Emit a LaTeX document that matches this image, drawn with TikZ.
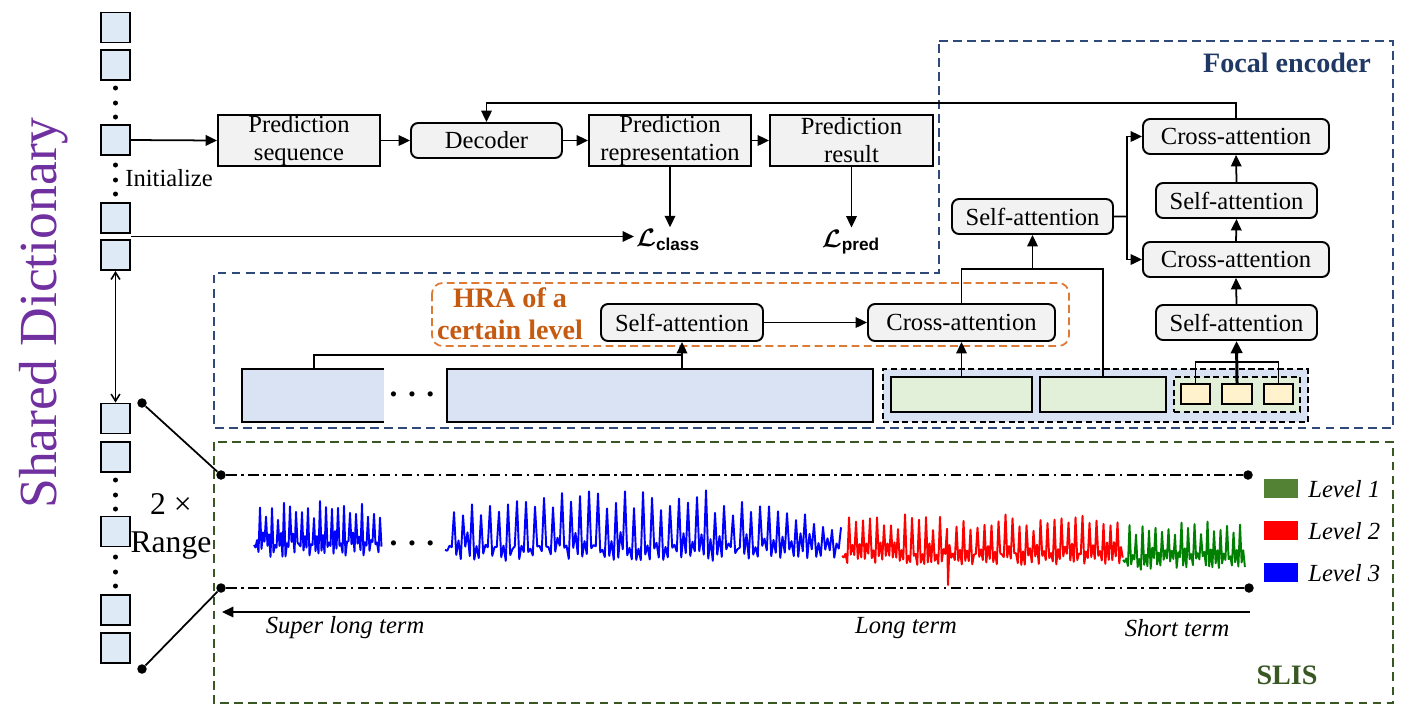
\documentclass[tikz,border=0pt]{standalone}
\usepackage{fontspec}
\setmainfont{Liberation Serif}
\setsansfont{Liberation Sans}
\usepackage{amsmath,bm}
\usetikzlibrary{arrows.meta,fit,calc}
\definecolor{boxgray}{HTML}{F2F2F2}
\definecolor{dictblue}{HTML}{DEEBF7}
\definecolor{barblue}{HTML}{DAE3F3}
\definecolor{lgreen}{HTML}{E2F0D9}
\definecolor{lyellow}{HTML}{FFF2CC}
\definecolor{navy}{HTML}{2F4A7A}
\definecolor{navytext}{HTML}{1F3864}
\definecolor{hraorange}{HTML}{C55A11}
\definecolor{hraborder}{HTML}{DD7A35}
\definecolor{slisgreen}{HTML}{385723}
\definecolor{legendgreen}{HTML}{548235}
\definecolor{dictpurple}{HTML}{7030A0}
\definecolor{wavegreen}{HTML}{008000}
\newcommand{\fs}{\fontsize{14}{16}\selectfont}
\tikzset{
  pbox/.style={draw, line width=1.1pt, fill=boxgray, inner sep=0pt},
  rbox/.style={pbox, rounded corners=4pt},
  lbl/.style={font=\fs, align=center, inner sep=0pt},
  arr/.style={line width=1pt, -{Triangle[length=6.5pt,width=6pt]}},
  ln/.style={line width=1pt},
  dsq/.style={draw, line width=1.1pt, fill=dictblue, minimum width=0.58cm, minimum height=0.6cm, inner sep=0pt},
  sdot/.style={circle, fill=black, inner sep=0pt, minimum size=0.1cm},
  bdot/.style={circle, fill=black, inner sep=0pt, minimum size=0.19cm},
  plainbox/.style={draw, line width=1.1pt, inner sep=0pt},
  groupdash/.style={draw, line width=1pt, dash pattern=on 3.5pt off 2pt, inner sep=0pt},
  navydash/.style={draw=navy, line width=0.9pt, dash pattern=on 5pt off 3pt},
  greendash/.style={draw=slisgreen, line width=0.9pt, dash pattern=on 5pt off 3pt},
  dashdotline/.style={line width=1pt, dash pattern=on 6pt off 2.5pt on 1.5pt off 2.5pt},
  wave/.style={line width=1.1pt, line join=round},
  txt/.style={font=\fs, inner sep=0pt},
  itxt/.style={font=\fs\itshape, inner sep=0pt},
  legsq/.style={inner sep=0pt}
}
\begin{document}
\begin{tikzpicture}[x=0.02cm,y=-0.02cm]
\useasboundingbox (0,0) rectangle (1408,718);

% ---------- Shared dictionary ----------
\node[rotate=90, text=dictpurple, font=\fontsize{30.5}{36}\selectfont, inner sep=0pt] (sdict) at (44,313) {Shared Dictionary};

\node[dsq] (d1) at (115.5,27.5) {};
\node[dsq] (d2) at (115.5,65) {};
\node[dsq] (d3) at (115.5,140) {};
\node[dsq] (d4) at (115.5,218) {};
\node[dsq] (d5) at (115.5,255) {};
\node[dsq] (b1) at (115.5,418.5) {};
\node[dsq] (b2) at (115.5,457) {};
\node[dsq] (b3) at (115.5,531.5) {};
\node[dsq] (b4) at (115.5,610) {};
\node[dsq] (b5) at (115.5,648) {};
\foreach \yy [count=\k] in {88,103,117,165,180,194,480,495,509,557,572,586}
  \node[sdot] (vd\k) at (115.5,\yy) {};

\node[txt, anchor=west] (init) at (125,178) {Initialize};
\draw[line width=0.9pt, <->, >={Straight Barb[length=4pt,width=5pt]}] (d5.south) -- (b1.north);

\node[font=\fontsize{18}{20}\selectfont, inner sep=0pt] (twox) at (171,504) {2 ×};
\node[font=\fontsize{18}{20}\selectfont, inner sep=0pt] (range) at (171,546) {Range};

% ---------- Top flow ----------
\node[pbox, fit={(218,115) (380,166)}] (ps) {};
\node[lbl] (pst) at (ps.center) {Prediction\\sequence};
\node[rbox, fit={(411,123) (562,158)}] (dec) {};
\node[lbl] (dect) at (dec.center) {Decoder};
\node[pbox, fit={(589,115) (751,166)}] (prep) {};
\node[lbl] (prept) at (prep.center) {Prediction\\representation};
\node[pbox, fit={(770,115) (933,166)}] (pres) {};
\node[lbl] (prest) at (pres.center) {Prediction\\result};

\node[inner sep=1pt, font=\fs] (lcls) at (668,240) {$\bm{\mathcal{L}}_{\textsf{\bfseries class}}$};
\node[inner sep=1pt, font=\fs] (lprd) at (851,242) {$\bm{\mathcal{L}}_{\textsf{\bfseries pred}}$};

\draw[arr] (d3.east) -- (ps.west);
\draw[arr] (ps.east) -- (dec.west);
\draw[arr] (dec.east) -- (prep.west);
\draw[arr] (prep.east) -- (pres.west);
\draw[arr] (prep.south) -- (lcls.north -| prep.south);
\draw[arr] (pres.south) -- (lprd.north -| pres.south);
\coordinate (dgap) at ($(d4.south east)!0.5!(d5.north east)$);
\draw[arr] (dgap) -- (dgap -| lcls.west);

% ---------- Focal encoder ----------
\draw[navydash] (939,41) -- (1393,41) -- (1393,428) -- (214,428) -- (214,273) -- (939,273) -- cycle;
\node[font=\fontsize{16}{18}\selectfont\bfseries, text=navytext, inner sep=0pt] (fenc) at (1287,63) {Focal encoder};

\node[rbox, fit={(1143,119) (1329,154)}] (ca1) {};
\node[lbl] (ca1t) at (ca1.center) {Cross-attention};
\node[rbox, fit={(1156,183) (1317,218)}] (sa2) {};
\node[lbl] (sa2t) at (sa2.center) {Self-attention};
\node[rbox, fit={(1143,242) (1329,277)}] (ca2) {};
\node[lbl] (ca2t) at (ca2.center) {Cross-attention};
\node[rbox, fit={(1156,305) (1317,340)}] (sa1) {};
\node[lbl] (sa1t) at (sa1.center) {Self-attention};
\node[rbox, fit={(952,199) (1113,234)}] (sal) {};
\node[lbl] (salt) at (sal.center) {Self-attention};

\draw[arr] (sa1.north) -- (ca2.south);
\draw[arr] (ca2.north) -- (sa2.south);
\draw[arr] (sa2.north) -- (ca1.south);
\coordinate (splitR) at (1127,216.5);
\draw[ln] (sal.east) -- (splitR);
\draw[arr] (splitR) |- (ca1.west);
\draw[arr] (splitR) |- (ca2.west);

\coordinate (fb) at (486.5,103);
\draw[arr] (ca1.north) |- (fb) -- (dec.north);

% ---------- HRA ----------
\draw[draw=hraborder, line width=1pt, dash pattern=on 4.5pt off 2.5pt, rounded corners=6pt] (432,283) rectangle (1069,346);
\node[font=\fontsize{16}{18}\selectfont\bfseries, text=hraorange, align=center, inner sep=0pt] (hra) at (510,314) {HRA of a\\certain level};
\node[rbox, fit={(601,304) (763,341)}] (hsa) {};
\node[lbl] (hsat) at (hsa.center) {Self-attention};
\node[rbox, fit={(868,304) (1055,341)}] (hca) {};
\node[lbl] (hcat) at (hca.center) {Cross-attention};
\draw[arr] (hsa.east) -- (hca.west);

% bars
\node[fill=barblue, inner sep=0pt, fit={(242,369) (384,422)}] (bar1) {};
\draw[line width=1.1pt] (bar1.north east) -- (bar1.north west) -- (bar1.south west) -- (bar1.south east);
\node[font=\fontsize{18}{20}\selectfont\bfseries, inner sep=0pt] (bdots) at (412,394) {. . .};
\node[plainbox, fill=barblue, fit={(447,369) (873,422)}] (bar2) {};

\node[groupdash, fill=barblue, fit={(883,369) (1308,422)}] (grp) {};
\node[plainbox, fill=lgreen, fit={(891,377) (1032,412)}] (g1) {};
\node[plainbox, fill=lgreen, fit={(1040,377) (1166,412)}] (g2) {};
\node[groupdash, fill=lgreen, fit={(1174,377) (1300,412)}] (inn) {};
\node[plainbox, fill=lyellow, fit={(1181,384) (1210,404)}] (y1) {};
\node[plainbox, fill=lyellow, fit={(1222,384) (1252,404)}] (y2) {};
\node[plainbox, fill=lyellow, fit={(1264,384) (1293,404)}] (y3) {};

\coordinate (b1t) at (314,369);
\coordinate (j1) at (682,355);
\draw[ln] (b1t) |- (j1);
\draw[arr] (hsa.south |- bar2.north) -- (hsa.south);
\draw[arr] (g1.north) -- (hca.south);
\coordinate (j2) at (1032.5,269);
\draw[ln] (hca.north) |- (j2) -| (g2.north);
\draw[arr] (j2) -- (sal.south);
\coordinate (j3) at (1237,362);
\draw[ln] (y1.north) |- (j3) -| (y3.north);
\draw[line width=1.7pt, -{Triangle[length=7pt,width=6.5pt]}] (y2.north) -- (sa1.south);

% ---------- SLIS ----------
\draw[greendash] (214,442) rectangle (1393,703);
\node[font=\fontsize{16}{18}\selectfont\bfseries, text=slisgreen, inner sep=0pt] (slis) at (1287,675) {SLIS};

\node[bdot] (lp1) at (142,403) {};
\node[bdot] (lp2) at (142,669) {};
\node[bdot] (t1) at (221,475) {};
\node[bdot] (t2) at (1248,475) {};
\node[bdot] (u1) at (221,588) {};
\node[bdot] (u2) at (1249,588) {};
\draw[line width=1pt] (lp1) -- (t1);
\draw[line width=1pt] (lp2) -- (u1);
\draw[dashdotline] (t1) -- (t2);
\draw[dashdotline] (u1) -- (u2);

\coordinate (ar1) at (1250,612);
\coordinate (ar2) at (222,612);
\draw[arr] (ar1) -- (ar2);

\node[itxt] (tsl) at (345,628) {Super long term};
\node[itxt] (tlt) at (906,628) {Long term};
\node[itxt] (tst) at (1177,628) {Short term};

% legend
\node[legsq, fill=legendgreen, fit={(1264,479) (1298,498)}] (lg1) {};
\node[legsq, fill=red, fit={(1264,521) (1298,540)}] (lg2) {};
\node[legsq, fill=blue, fit={(1264,563) (1298,582)}] (lg3) {};
\node[itxt, anchor=west] (lt1) at (1308,489) {Level 1};
\node[itxt, anchor=west] (lt2) at (1308,531) {Level 2};
\node[itxt, anchor=west] (lt3) at (1308,573) {Level 3};

% waves
\pgfmathsetseed{4242}
\draw[wave, blue] (254,545) \foreach \i in {1,...,85} { -- ({254+1.5*\i}, {545 + ifthenelse(mod(\i,4)==0, -44*(0.55+0.45*rnd), ifthenelse(mod(\i,4)==2, -14*rnd, 4+8*rand))}) };
\node[font=\fontsize{18}{20}\selectfont\bfseries, inner sep=0pt] (wdots) at (412,543) {. . .};
\draw[wave, blue] (445,550) \foreach \i in {1,...,176} { -- ({445+2.25*\i}, {550 + ifthenelse(mod(\i,4)==0, -(67-8*((2.25*\i-180)/100)^2)*(0.6+0.4*rnd), ifthenelse(mod(\i,4)==2, -18*rnd, 3+8*rand))}) };
\draw[wave, red] (842,556) \foreach \i in {1,...,60} { -- ({842+1.75*\i}, {556 + ifthenelse(mod(\i,4)==0, -42*(0.6+0.4*rnd), ifthenelse(mod(\i,4)==2, -14*rnd, 3+6*rand))}) } -- (948,585) -- (949.5,545) \foreach \i in {1,...,99} { -- ({949.5+1.75*\i}, {556 + ifthenelse(mod(\i,4)==0, -42*(0.6+0.4*rnd), ifthenelse(mod(\i,4)==2, -14*rnd, 3+6*rand))}) };
\draw[wave, wavegreen] (1123,560) \foreach \i in {1,...,75} { -- ({1123+1.625*\i}, {560 + ifthenelse(mod(\i,4)==0, -40*(0.6+0.4*rnd), ifthenelse(mod(\i,4)==2, -14*rnd, 3+7*rand))}) };
\end{tikzpicture}
\end{document}
